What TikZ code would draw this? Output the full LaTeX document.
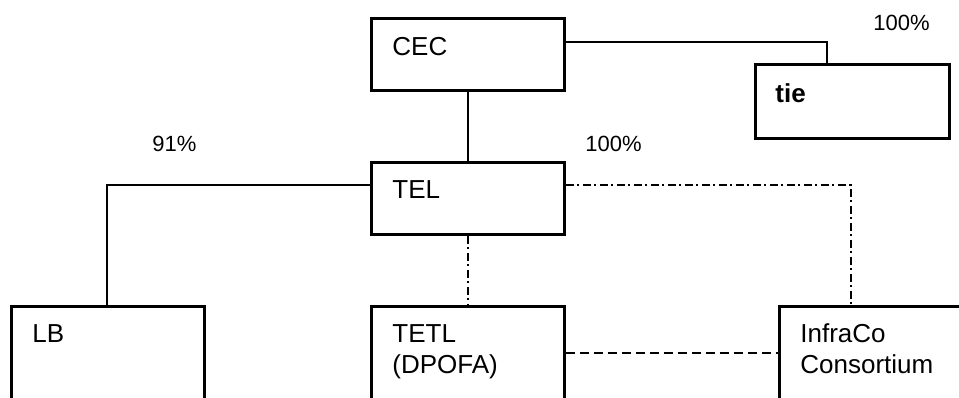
\documentclass[tikz,border=0pt]{standalone}
\usepackage{fontspec}
\setmainfont{Liberation Sans}
\begin{document}
\begin{tikzpicture}[x=0.5pt,y=-0.5pt,
  box/.style={draw=black,line width=1.4pt,rectangle,minimum width=96.5pt,minimum height=36pt,anchor=north west,inner sep=0pt},
  tallbox/.style={box,minimum height=60pt},
  txt/.style={anchor=base west,inner sep=0pt,font=\fontsize{13pt}{15.5pt}\selectfont,align=left},
  pct/.style={anchor=base west,inner sep=0pt,font=\fontsize{11pt}{13pt}\selectfont},
  own/.style={line width=1.4pt},
  dashdot/.style={line width=1.4pt,dash pattern=on 4pt off 1.75pt on 1pt off 1.75pt},
  dash9/.style={line width=1.4pt,dash pattern=on 4.5pt off 2.5pt}]
\useasboundingbox (0,0) rectangle (959,397);
\fill[white] (0,0) rectangle (959,397);
% boxes
\node[box] (cec) at (370,17) {};
\node[box,minimum width=97pt,minimum height=37pt] (tie) at (754,63) {};
\node[box] (tel) at (370,161) {};
\node[tallbox] (lb) at (10,305) {};
\node[tallbox] (tetl) at (370,305) {};
\node[tallbox,minimum width=110pt] (infra) at (778,305) {};
% texts
\node[txt] (tcec) at ([shift={(22,38)}]cec.north west) {CEC};
\node[txt,font=\fontsize{13pt}{15.5pt}\selectfont\bfseries] (ttie) at ([shift={(21,39)}]tie.north west) {tie};
\node[txt] (ttel) at ([shift={(22,37)}]tel.north west) {TEL};
\node[txt] (tlb) at ([shift={(22,37)}]lb.north west) {LB};
\node[txt] (ttetl) at ([shift={(22,68)}]tetl.north west) {TETL\\(DPOFA)};
\node[txt] (tinfra) at ([shift={(22,68)}]infra.north west) {InfraCo\\Consortium};
% percentages
\node[pct] (p1) at (873,30) {100\%};
\node[pct] (p2) at (152,151) {91\%};
\node[pct] (p3) at (585,151) {100\%};
% connectors
\coordinate (c1) at (827,42);
\draw[own] (cec.east |- c1) -- (c1) -- (c1 |- tie.north);
\draw[own] (cec.south) -- (tel.north);
\coordinate (c2) at (107,185);
\draw[own] (tel.west |- c2) -- (c2) -- (c2 |- lb.north);
\draw[dashdot] (tel.south) -- (tetl.north);
\coordinate (c3) at (851,185);
\draw[dashdot] (tel.east |- c3) -- (c3) -- (c3 |- infra.north);
\coordinate (c4) at (600,353);
\draw[dash9] (tetl.east |- c4) -- (infra.west |- c4);
\end{tikzpicture}
\end{document}
